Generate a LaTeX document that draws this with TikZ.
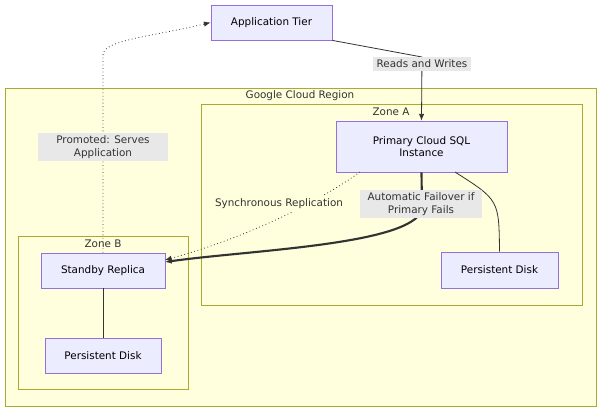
\documentclass[tikz,border=0pt]{standalone}
\usepackage{fontspec}
\setmainfont{DejaVu Sans}
\usetikzlibrary{arrows.meta}
\definecolor{nfill}{HTML}{ECECFF}\definecolor{nstroke}{HTML}{9370DB}
\definecolor{cfill}{HTML}{FFFFDE}\definecolor{cstroke}{HTML}{AAAA33}
\definecolor{lbl}{HTML}{E8E8E8}\definecolor{edge}{HTML}{333333}
\begin{document}
\begin{tikzpicture}[x=0.75pt,y=-0.75pt,font=\fontsize{7.8}{9.5}\selectfont,
 box/.style={draw=nstroke,fill=nfill,line width=0.6pt,align=center},
 clus/.style={draw=cstroke,fill=cfill,line width=0.6pt},
 el/.style={fill=lbl,align=center,inner xsep=6pt,inner ysep=2pt,text=edge},
 e/.style={draw=edge,line width=0.6pt},
 arr/.style={-{Latex[length=5pt,width=4pt]}}]
\useasboundingbox (0,0) rectangle (600,412);
\draw[clus] (5,88) rectangle (596,406);
\node[text=edge] (tR) at (300,96) {Google Cloud Region};
\draw[clus] (201,104) rectangle (582,305);
\node[text=edge] (tA) at (391,112) {Zone A};
\draw[clus] (18,236) rectangle (188,389);
\node[text=edge] (tB) at (103,244) {Zone B};
\node[box,minimum width=121*0.75pt,minimum height=35*0.75pt] (app) at (271.5,22.5) {Application Tier};
\node[box,minimum width=171*0.75pt,minimum height=51*0.75pt,text width=100pt] (pri) at (421.5,146.5) {Primary Cloud SQL\\Instance};
\node[box,minimum width=117*0.75pt,minimum height=36*0.75pt] (pda) at (499.5,270) {Persistent Disk};
\node[box,minimum width=124*0.75pt,minimum height=35*0.75pt] (sby) at (103,270.5) {Standby Replica};
\node[box,minimum width=116*0.75pt,minimum height=35*0.75pt] (pdb) at (103,355.5) {Persistent Disk};
\draw[e,arr] (app.south east) -- (422,57) -- (pri.north);
\node[el,inner xsep=3pt] (l1) at (422,64) {Reads and Writes};
\draw[e] (455,172) .. controls (499,200) .. (pda.north);
\draw[e] (sby.south) -- (pdb.north);
\draw[e,dotted,arr] (360,172) .. controls (300,215) and (220,245) .. (165,260);
\node[el,fill=cfill,inner xsep=2pt] (l2) at (279,204) {Synchronous Replication};
\draw[e,line width=1.6pt,arr] (pri.south) -- (422,210) .. controls (410,245) and (250,250) .. (165,262);
\node[el] (l3) at (421,204) {Automatic Failover if\\Primary Fails};
\draw[e,dotted,arr] (sby.north) -- (103,55) .. controls (103,40) and (150,37) .. (app.west);
\node[el,inner xsep=14pt] (l4) at (103,147) {Promoted: Serves\\Application};
\end{tikzpicture}
\end{document}
